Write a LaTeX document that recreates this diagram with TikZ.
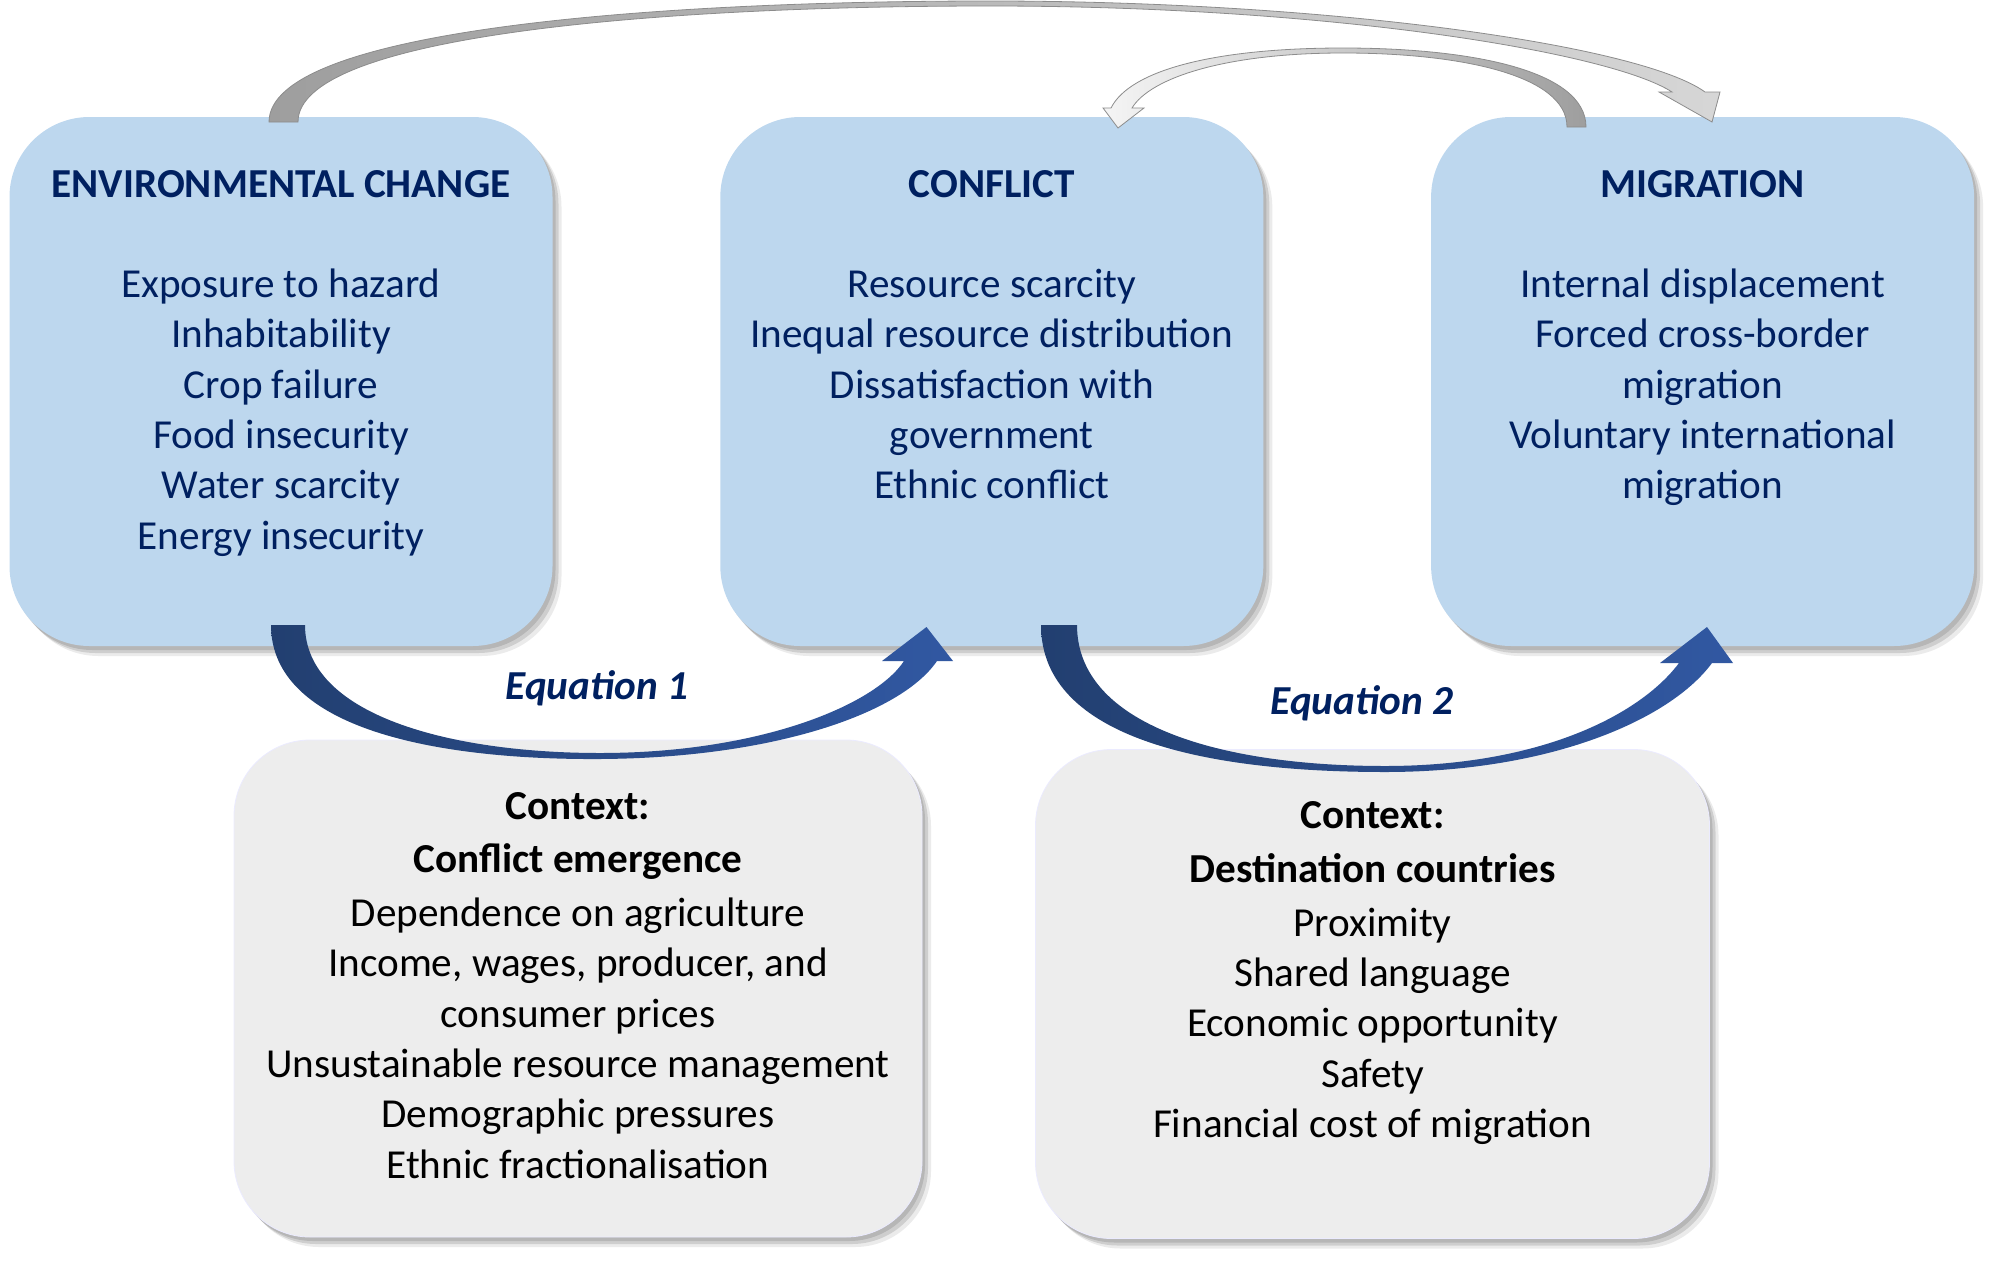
\documentclass[tikz,border=0pt]{standalone}
\usepackage{fontspec}
\setmainfont{Carlito}
\usepackage{tikz}
\usetikzlibrary{positioning}
\usetikzlibrary{shadows}
\definecolor{boxblue}{HTML}{BDD7EE}
\definecolor{boxgrey}{HTML}{EDEDED}
\definecolor{navy}{HTML}{002060}
\definecolor{arrowdark}{HTML}{223F70}
\definecolor{arrowlight}{HTML}{3158A2}
\tikzset{
    framework/.style={
            x=0.5pt,y=-0.5pt,
            soft shadow/.style={
                drop shadow={shadow xshift=1.5pt,shadow yshift=-2pt,fill=black,opacity=0.12},
                drop shadow={shadow xshift=3pt,shadow yshift=-3.5pt,fill=black,opacity=0.12},
                drop shadow={shadow xshift=4.5pt,shadow yshift=-5pt,fill=black,opacity=0.08}},
            mainbox/.style={rounded corners=40pt,fill=boxblue,minimum width=271.5pt,minimum height=264.5pt,soft shadow},
            ctxbox/.style={rounded corners=38pt,fill=boxgrey,draw=blue!8,soft shadow},
            boxtext/.style={align=center,inner sep=0pt,font=\fontsize{20.6}{25.15}\selectfont},
            eqlabel/.style={inner sep=0pt,text=navy,font=\fontsize{20.6}{25.15}\selectfont\bfseries\itshape},
            bluearrow/.style={left color=arrowdark,right color=arrowlight},
            greyarrow/.style={draw=black!45,line width=0.4pt}
        }
    }

\begin{document}
\begin{tikzpicture}[framework]
                \useasboundingbox (0,0) rectangle (2007,1274);
                \node[mainbox] (env) at (281,381.5) {};
                \node[mainbox, right=83.5pt of env] (conflict) {};
                \node[mainbox, right=83.5pt of conflict] (migration) {};
                \node[ctxbox, minimum width=344pt, minimum height=248.5pt] (ctxone) at (578,988.5) {};
                \node[ctxbox, minimum width=337pt, minimum height=244.5pt] (ctxtwo) at (1372.5,994) {};
                \node[boxtext, text=navy, below=26.5pt of env.north] (envtext) {\textbf{ENVIRONMENTAL CHANGE}\\[25.15pt]
                    Exposure to hazard\\ Inhabitability\\ Crop failure\\ Food insecurity\\ Water scarcity\\ Energy insecurity};
                \node[boxtext, text=navy, below=26.5pt of conflict.north] (conflicttext) {\textbf{CONFLICT}\\[25.15pt]
                    Resource scarcity\\ Inequal resource distribution\\ Dissatisfaction with\\ government\\ Ethnic conflict};
                \node[boxtext, text=navy, below=26.5pt of migration.north] (migrationtext) {\textbf{MIGRATION}\\[25.15pt]
                    Internal displacement\\ Forced cross-border\\ migration\\ Voluntary international\\ migration};
                \node[boxtext, below=26pt of ctxone.north] (ctxonetext) {\textbf{Context:}\\[1.75pt] \textbf{Conflict emergence}\\[1.75pt]
                    Dependence on agriculture\\ Income, wages, producer, and\\ consumer prices\\ Unsustainable resource management\\
                    Demographic pressures\\ Ethnic fractionalisation};
                \node[boxtext, below=26pt of ctxtwo.north] (ctxtwotext) {\textbf{Context:}\\[1.75pt] \textbf{Destination countries}\\[1.75pt]
                    Proximity\\ Shared language\\ Economic opportunity\\ Safety\\ Financial cost of migration};
                \node[eqlabel] (eqone) at (597,688) {Equation 1};
                \node[eqlabel] (eqtwo) at (1362,703) {Equation 2};
                \shadedraw[greyarrow, left color=black!38, right color=black!16] (269,122) .. controls (269,30) and (650,1) .. (990,1)
                    .. controls (1330,1) and (1640,45) .. (1705,92) -- (1720,92) -- (1712,122) -- (1659,92) -- (1672,92)
                    .. controls (1610,52) and (1330,6) .. (990,6) .. controls (660,6) and (298,35) .. (298,122) -- cycle;
                \shadedraw[greyarrow, left color=black!4, right color=black!38] (1586,127) .. controls (1586,70) and (1470,48) .. (1343,48)
                    .. controls (1215,48) and (1130,70) .. (1111,108) -- (1103,108) -- (1118,128) -- (1144,108) -- (1132,108)
                    .. controls (1150,78) and (1225,53) .. (1343,53) .. controls (1460,53) and (1567,75) .. (1567,127) -- cycle;
                \shade[bluearrow] (271,625) .. controls (271,730) and (440,760) .. (600,759)
                    .. controls (770,758) and (900,715) .. (937,661) -- (953,661) -- (926.5,627) -- (882,661) -- (904,661)
                    .. controls (875,705) and (760,753) .. (600,753) .. controls (450,753) and (305,715) .. (305,625) -- cycle;
                \shade[bluearrow] (1041,625) .. controls (1041,740) and (1210,772) .. (1385,772)
                    .. controls (1550,772) and (1670,720) .. (1712,663) -- (1733,663) -- (1707,627) -- (1660,663) -- (1679,663)
                    .. controls (1640,715) and (1540,766) .. (1385,766) .. controls (1220,766) and (1077,725) .. (1077,625) -- cycle;
            \end{tikzpicture}
\end{document}
